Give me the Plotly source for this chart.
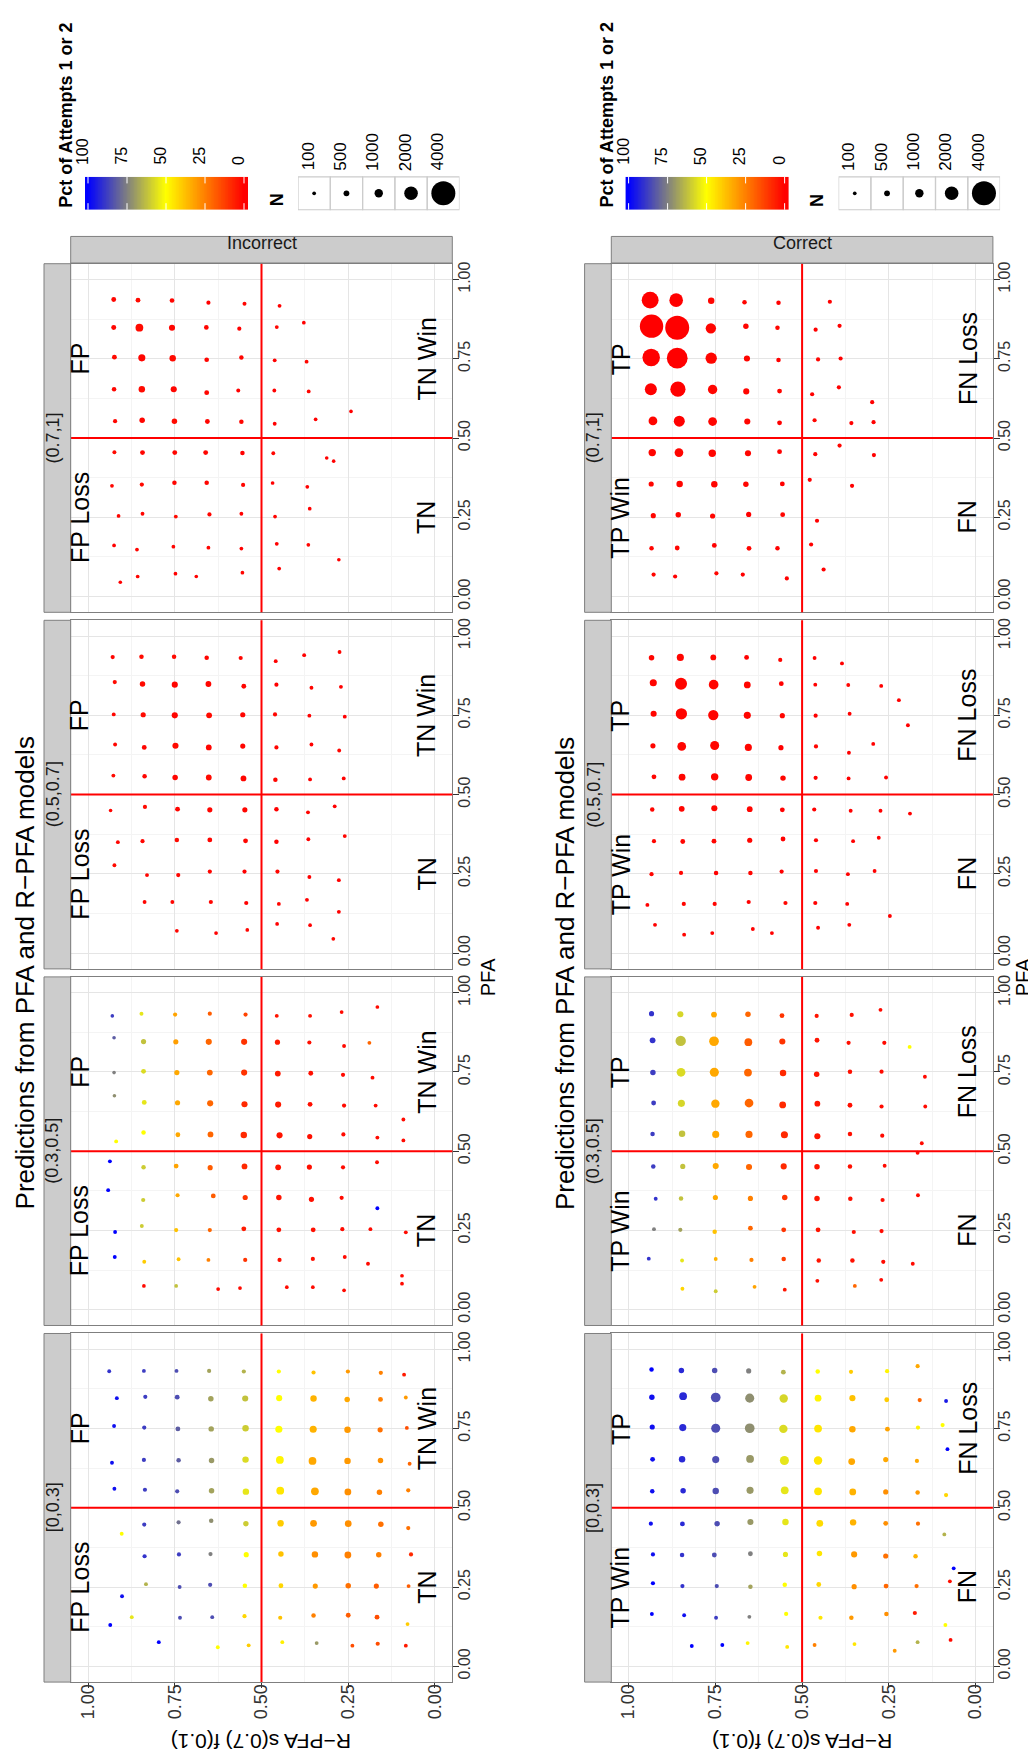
import plotly.graph_objects as go

W, H = 1036, 1754
FONT = "Liberation Sans, Arial, Helvetica, sans-serif"

# ---------------- labels / ticks ----------------
facet_labels = ["[0,0.3]", "(0.3,0.5]", "(0.5,0.7]", "(0.7,1]"]
outcome_labels = ["Incorrect", "Correct"]
quad_text_incorrect = ["FP", "FP Loss", "TN", "TN Win"]
quad_text_correct = ["TP", "TP Win", "FN", "FN Loss"]
quad_rpfa = [1, 1, 0, 0]
quad_pfa = [0.75, 0.25, 0.25, 0.75]
axis_tickvals = [0, 0.25, 0.5, 0.75, 1]
axis_ticktext = ["0.00", "0.25", "0.50", "0.75", "1.00"]
pct_legend_ticks = [100, 75, 50, 25, 0]
n_legend = [100, 500, 1000, 2000, 4000]
title_text = "Predictions from PFA and R\u2212PFA models"
xlab_text = "PFA"
ylab_text = "R\u2212PFA s(0.7) f(0.1)"
legend_color_title = "Pct of Attempts 1 or 2"
legend_size_title = "N"

# ---------------- data: Incorrect ----------------
# facet (0.7,1]
inc3_rpfa = [0.926,0.856,0.758,0.653,0.549,0.448,
             0.926,0.852,0.758,0.659,0.564,0.456,0.378,
             0.924,0.845,0.756,0.658,0.558,0.462,0.370,
             0.925,0.845,0.753,0.658,0.567,0.463,0.364,
             0.922,0.844,0.751,0.656,0.558,0.462,0.344,0.242,
             0.924,0.843,0.750,0.661,0.555,0.466,0.312,0.292,
             0.931,0.845,0.751,0.658,0.553,0.468,0.368,
             0.912,0.843,0.747,0.650,0.558,0.461,0.361,
             0.925,0.859,0.754,0.653,0.558,0.456,0.365,0.277,
             0.907,0.857,0.748,0.688,0.555,0.449]
inc3_pfa = [0.937,0.935,0.934,0.927,0.924,0.917,
            0.849,0.848,0.848,0.849,0.845,0.850,0.864,
            0.755,0.753,0.752,0.747,0.754,0.745,0.741,
            0.654,0.654,0.654,0.643,0.650,0.650,0.647,
            0.553,0.556,0.553,0.552,0.551,0.545,0.559,0.584,
            0.455,0.454,0.454,0.454,0.453,0.452,0.437,0.427,
            0.349,0.353,0.359,0.359,0.352,0.358,0.346,
            0.254,0.261,0.252,0.259,0.261,0.252,0.277,
            0.161,0.148,0.157,0.154,0.151,0.166,0.163,0.116,
            0.045,0.063,0.072,0.063,0.075,0.088]
inc3_n = [310,310,280,190,150,120,
          340,875,560,280,190,120,100,
          310,750,625,280,250,120,120,
          250,625,560,310,150,120,120,
          190,440,440,310,250,120,100,80,
          150,310,310,310,250,120,80,80,
          100,190,250,250,190,100,100,
          100,120,120,190,120,100,100,
          100,100,100,120,100,120,100,80,
          80,100,100,80,100,100]
inc3_pct = [1,2,1,0,1,0,
            1,2,1,1,0,1,0,
            2,1,2,1,1,0,1,
            1,2,1,1,0,0,1,
            1,1,2,1,1,0,0,0,
            2,1,1,1,0,1,0,0,
            1,2,1,1,1,0,0,
            1,1,2,1,0,1,0,
            0,1,1,1,0,0,1,0,
            0,1,0,0,1,0]

# facet (0.5,0.7]
inc2_rpfa = [0.929,0.846,0.752,0.658,0.560,0.459,0.377,0.275,
             0.923,0.843,0.750,0.653,0.551,0.457,0.356,0.271,
             0.926,0.841,0.750,0.651,0.554,0.461,0.362,0.260,
             0.922,0.838,0.748,0.652,0.554,0.457,0.356,0.276,
             0.927,0.837,0.749,0.652,0.552,0.460,0.360,0.263,
             0.935,0.836,0.742,0.649,0.548,0.457,0.366,0.289,
             0.914,0.843,0.744,0.649,0.546,0.457,0.365,0.260,
             0.924,0.830,0.740,0.649,0.549,0.454,0.362,0.277,
             0.837,0.757,0.646,0.544,0.450,0.369,0.277,
             0.744,0.631,0.541,0.455,0.360,0.293]
inc2_pfa = [0.934,0.935,0.935,0.932,0.931,0.921,0.940,0.950,
            0.855,0.849,0.847,0.849,0.842,0.847,0.837,0.840,
            0.753,0.752,0.750,0.750,0.752,0.753,0.749,0.746,
            0.658,0.649,0.654,0.649,0.653,0.649,0.658,0.639,
            0.560,0.558,0.554,0.554,0.551,0.547,0.548,0.551,
            0.450,0.461,0.454,0.452,0.452,0.454,0.444,0.463,
            0.350,0.353,0.357,0.357,0.354,0.351,0.359,0.369,
            0.277,0.246,0.246,0.257,0.257,0.257,0.240,0.230,
            0.161,0.161,0.161,0.158,0.155,0.168,0.130,
            0.070,0.063,0.073,0.092,0.088,0.045]
inc2_n = [190,250,250,250,190,125,125,125,
          190,440,560,500,310,190,125,125,
          125,375,560,500,375,190,125,125,
          125,310,560,500,375,190,125,125,
          125,250,440,500,500,250,125,125,
          80,190,310,375,375,250,125,125,
          125,190,250,310,310,250,125,125,
          125,125,190,190,190,190,125,125,
          125,125,190,190,125,125,125,
          100,100,100,100,100,100]
inc2_pct = [1,2,2,1,1,0,0,1,
            2,2,1,1,1,0,1,0,
            1,2,1,2,1,1,0,0,
            1,1,2,1,1,1,0,1,
            2,1,1,2,1,1,0,0,
            1,2,1,1,1,0,1,0,
            1,1,2,1,1,0,0,1,
            2,1,1,1,0,1,0,0,
            1,1,1,0,1,0,0,
            1,0,1,0,0,1]

# facet (0.3,0.5]
inc1_rpfa = [0.930,0.846,0.749,0.649,0.546,0.456,0.360,0.269,0.166,
             0.925,0.840,0.747,0.652,0.550,0.454,0.362,0.262,0.189,
             0.925,0.840,0.744,0.649,0.550,0.453,0.358,0.265,0.180,
             0.924,0.838,0.742,0.648,0.549,0.452,0.360,0.262,0.171,
             0.919,0.840,0.741,0.647,0.551,0.448,0.361,0.264,0.166,0.091,0.091,
             0.937,0.840,0.746,0.648,0.549,0.452,0.362,0.265,0.167,
             0.942,0.841,0.742,0.639,0.547,0.450,0.356,0.269,0.166,
             0.922,0.845,0.746,0.649,0.551,0.450,0.351,0.267,0.186,0.084,
             0.923,0.838,0.739,0.653,0.547,0.448,0.352,0.260,0.193,
             0.839,0.746,0.625,0.562,0.427,0.352,0.262,0.095,0.095]
inc1_pfa = [0.927,0.934,0.931,0.934,0.931,0.927,0.927,0.939,0.955,
            0.858,0.846,0.845,0.845,0.845,0.844,0.843,0.832,0.842,
            0.748,0.752,0.748,0.748,0.748,0.745,0.746,0.741,0.732,
            0.675,0.654,0.653,0.651,0.648,0.647,0.648,0.644,0.644,
            0.531,0.559,0.552,0.553,0.551,0.550,0.546,0.553,0.543,0.600,0.534,
            0.468,0.449,0.453,0.448,0.452,0.449,0.450,0.449,0.465,
            0.377,0.346,0.361,0.359,0.354,0.354,0.348,0.353,0.320,
            0.245,0.264,0.251,0.251,0.255,0.252,0.252,0.254,0.254,0.244,
            0.166,0.151,0.159,0.157,0.157,0.157,0.160,0.166,0.145,
            0.075,0.075,0.065,0.068,0.071,0.071,0.061,0.107,0.082]
inc1_n = [80,150,190,190,190,125,125,100,100,
          80,375,375,560,560,375,190,125,125,
          80,310,375,500,560,500,310,190,125,
          80,310,375,560,560,560,310,190,125,
          125,250,310,500,625,560,375,190,125,125,125,
          125,250,310,375,500,500,375,190,125,
          125,190,190,310,375,440,375,190,125,
          125,125,190,190,310,310,310,190,125,125,
          125,125,125,125,190,190,190,125,125,
          100,100,100,100,100,100,100,100,100]
inc1_pct = [88,55,32,18,13,4,3,2,2,
            82,62,31,20,10,5,3,2,20,
            75,57,33,20,10,5,3,2,2,
            72,55,33,20,8,5,3,2,2,
            50,50,33,20,8,4,3,2,2,2,2,
            100,60,32,18,8,4,3,2,2,
            100,60,33,18,10,4,3,2,100,
            100,60,38,20,5,3,3,2,2,2,
            100,40,38,25,10,3,3,2,2,
            2,62,2,2,2,2,2,2,2]

# facet [0,0.3]
inc0_rpfa = [0.939,0.839,0.745,0.651,0.551,0.450,0.350,0.251,0.156,0.089,
             0.917,0.835,0.743,0.646,0.547,0.449,0.350,0.253,0.157,0.084,
             0.925,0.838,0.741,0.645,0.546,0.450,0.351,0.252,0.158,0.081,
             0.931,0.839,0.739,0.644,0.546,0.447,0.353,0.252,0.157,0.073,
             0.924,0.836,0.743,0.644,0.545,0.446,0.346,0.251,0.160,0.077,
             0.903,0.838,0.739,0.645,0.545,0.445,0.350,0.250,0.156,0.077,
             0.837,0.738,0.647,0.544,0.444,0.346,0.251,0.162,0.069,
             0.833,0.902,0.736,0.648,0.548,0.444,0.345,0.250,0.169,0.076,
             0.936,0.874,0.735,0.642,0.549,0.446,0.350,0.250,0.167,0.079,
             0.796,0.626,0.537,0.440,0.341,0.238,0.165,0.084]
inc0_pfa = [0.931,0.932,0.932,0.932,0.930,0.930,0.927,0.930,0.926,0.920,
            0.846,0.850,0.849,0.844,0.845,0.846,0.845,0.842,0.842,0.848,
            0.758,0.753,0.749,0.749,0.751,0.748,0.748,0.746,0.746,0.752,
            0.642,0.651,0.650,0.649,0.652,0.651,0.648,0.648,0.649,0.639,
            0.560,0.557,0.552,0.554,0.551,0.554,0.552,0.550,0.549,0.555,
            0.418,0.447,0.454,0.459,0.450,0.451,0.451,0.450,0.448,0.436,
            0.347,0.353,0.354,0.352,0.354,0.353,0.351,0.352,0.353,
            0.259,0.221,0.250,0.257,0.254,0.254,0.253,0.254,0.253,0.253,
            0.130,0.155,0.153,0.155,0.158,0.153,0.160,0.161,0.155,0.133,
            0.076,0.060,0.066,0.076,0.073,0.065,0.071,0.065]
inc0_n = [125,125,125,190,190,190,190,190,190,125,
          125,190,310,440,560,560,625,440,310,125,
          125,190,310,440,625,750,750,625,375,125,
          125,190,250,440,625,875,875,625,440,125,
          125,190,190,440,625,875,875,690,440,190,
          125,190,190,250,440,625,690,690,440,190,
          190,190,190,375,440,625,690,440,190,
          125,125,125,190,250,310,375,440,375,125,
          125,125,125,125,190,190,250,310,310,125,
          125,125,125,125,125,125,190,125]
inc0_pct = [90,88,85,68,65,50,38,30,25,5,
            97,88,85,68,62,50,35,33,25,30,
            97,88,82,68,60,50,35,30,22,15,
            97,88,82,70,57,48,33,30,28,20,
            97,88,85,68,55,45,33,28,25,25,
            50,88,78,72,60,40,30,28,22,22,
            90,88,75,50,38,28,25,25,8,
            65,97,85,85,50,42,30,22,18,18,
            100,55,85,85,42,38,25,18,15,40,
            100,50,40,47,70,15,15,5]

# ---------------- data: Correct ----------------
# facet (0.7,1]
cor3_rpfa = [0.938,0.863,0.762,0.666,0.568,0.420,
             0.934,0.860,0.763,0.662,0.571,0.461,0.392,
             0.935,0.860,0.762,0.659,0.568,0.454,0.389,
             0.936,0.858,0.758,0.661,0.565,0.471,0.394,
             0.930,0.854,0.758,0.658,0.565,0.464,0.358,0.298,0.294,
             0.932,0.855,0.759,0.656,0.565,0.462,0.392,0.293,
             0.935,0.853,0.753,0.662,0.557,0.478,0.356,
             0.929,0.857,0.758,0.654,0.556,0.457,
             0.934,0.860,0.753,0.653,0.571,0.474,
             0.928,0.866,0.747,0.671,0.544,0.438]
cor3_pfa = [0.935,0.935,0.933,0.928,0.927,0.930,
            0.853,0.848,0.846,0.853,0.848,0.842,0.854,
            0.754,0.752,0.752,0.751,0.746,0.748,0.751,
            0.654,0.654,0.653,0.647,0.648,0.638,0.660,
            0.554,0.553,0.552,0.552,0.548,0.556,0.547,0.613,0.550,
            0.454,0.454,0.452,0.452,0.457,0.449,0.476,0.446,
            0.355,0.355,0.354,0.354,0.355,0.368,0.349,
            0.255,0.258,0.254,0.259,0.258,0.239,
            0.152,0.153,0.161,0.152,0.152,0.164,
            0.069,0.063,0.073,0.069,0.057,0.085]
cor3_n = [2630,2000,625,250,250,190,
          3875,4000,1375,440,250,190,190,
          2750,3375,1560,560,250,190,190,
          1690,2310,1190,560,310,190,190,
          1060,1500,1060,560,310,190,190,190,190,
          810,1060,810,560,310,190,190,190,
          375,625,625,440,310,190,190,
          375,440,375,375,310,190,
          250,310,310,310,250,190,
          190,190,190,190,190,190]
cor3_pct = [0,0,1,1,0,0,
            0,0,1,1,1,0,0,
            0,0,1,1,0,1,0,
            0,0,1,1,1,0,0,
            1,0,1,1,0,1,0,0,0,
            1,1,1,1,0,0,1,0,
            1,1,1,1,0,0,0,
            1,1,1,0,1,0,
            1,1,0,1,0,0,
            1,0,1,0,0,0]

# facet (0.5,0.7]
cor2_rpfa = [0.934,0.851,0.756,0.660,0.563,0.464,0.385,
             0.929,0.849,0.755,0.658,0.560,0.462,0.367,0.272,0.221,
             0.928,0.848,0.756,0.658,0.557,0.461,0.363,0.195,
             0.930,0.847,0.752,0.655,0.561,0.460,0.365,0.295,
             0.927,0.846,0.752,0.654,0.555,0.461,0.366,0.258,
             0.932,0.847,0.753,0.651,0.557,0.465,0.360,0.274,0.189,
             0.927,0.844,0.754,0.651,0.555,0.460,0.353,0.279,
             0.934,0.849,0.748,0.649,0.559,0.460,0.368,0.291,
             0.946,0.841,0.752,0.654,0.548,0.462,0.370,0.247,
             0.924,0.840,0.759,0.642,0.587,0.454,0.364]
cor2_pfa = [0.932,0.933,0.933,0.933,0.925,0.931,0.914,
            0.853,0.850,0.847,0.846,0.850,0.847,0.846,0.843,0.798,
            0.755,0.755,0.751,0.750,0.749,0.749,0.755,0.719,
            0.654,0.652,0.655,0.649,0.648,0.652,0.632,0.660,
            0.556,0.555,0.556,0.554,0.552,0.553,0.551,0.554,
            0.453,0.455,0.457,0.454,0.452,0.453,0.449,0.449,0.440,
            0.353,0.352,0.353,0.356,0.360,0.356,0.353,0.364,
            0.249,0.253,0.253,0.253,0.257,0.259,0.249,0.259,
            0.152,0.155,0.155,0.161,0.158,0.158,0.155,0.117,
            0.089,0.058,0.063,0.076,0.063,0.080,0.089]
cor2_n = [440,750,500,310,190,125,125,
          750,1690,1250,690,310,125,125,125,125,
          560,1560,1375,750,375,190,125,125,
          375,1060,1120,750,375,190,125,125,
          310,690,810,690,440,190,125,125,
          250,500,560,500,310,190,125,125,125,
          190,310,310,375,310,190,125,125,
          190,190,250,250,190,190,125,125,
          125,190,190,190,190,190,125,125,
          125,125,125,125,125,125,125]
cor2_pct = [1,1,1,0,1,0,0,
            1,1,1,1,0,0,1,0,0,
            1,1,1,1,1,0,0,0,
            1,1,1,1,0,1,0,0,
            1,1,1,1,1,0,0,0,
            1,1,1,1,0,0,0,0,0,
            1,1,1,1,0,0,0,0,
            1,1,0,1,0,0,0,0,
            0,1,1,0,1,0,0,0,
            0,1,0,0,0,0,0]

# facet (0.3,0.5]
cor1_rpfa = [0.934,0.851,0.754,0.656,0.558,0.458,0.357,0.274,
             0.931,0.850,0.754,0.655,0.557,0.457,0.366,0.263,0.190,
             0.930,0.849,0.753,0.656,0.555,0.458,0.362,0.271,0.146,
             0.928,0.848,0.750,0.653,0.556,0.456,0.362,0.271,0.145,
             0.931,0.846,0.749,0.653,0.551,0.456,0.362,0.269,0.155,0.167,
             0.929,0.844,0.749,0.653,0.553,0.457,0.362,0.262,
             0.922,0.849,0.750,0.649,0.550,0.457,0.361,0.268,0.166,
             0.927,0.851,0.752,0.649,0.553,0.454,0.351,0.271,
             0.942,0.846,0.749,0.646,0.553,0.452,0.355,0.266,0.181,
             0.845,0.749,0.637,0.550,0.456,0.348,0.272]
cor1_pfa = [0.934,0.932,0.931,0.932,0.928,0.927,0.930,0.946,
            0.850,0.848,0.847,0.844,0.846,0.850,0.842,0.842,0.829,
            0.748,0.749,0.749,0.748,0.747,0.743,0.751,0.751,0.735,
            0.652,0.651,0.650,0.652,0.646,0.650,0.645,0.641,0.641,
            0.554,0.555,0.553,0.553,0.552,0.547,0.554,0.549,0.525,0.495,
            0.452,0.452,0.453,0.450,0.452,0.451,0.452,0.454,
            0.350,0.351,0.354,0.351,0.354,0.351,0.350,0.346,0.361,
            0.254,0.252,0.246,0.257,0.252,0.252,0.245,0.248,
            0.161,0.155,0.160,0.157,0.160,0.155,0.155,0.151,0.145,
            0.066,0.058,0.072,0.063,0.091,0.075,0.094]
cor1_n = [375,560,500,440,310,190,190,125,
          500,1375,1250,875,560,310,190,190,125,
          440,1060,1125,875,625,440,250,190,125,
          310,750,1000,1060,690,500,310,190,125,
          250,625,750,750,750,560,250,190,125,125,
          250,375,560,560,560,440,250,125,
          125,250,375,375,440,440,250,190,125,
          125,190,250,310,310,310,190,190,
          125,125,125,190,250,250,250,190,125,
          125,125,125,125,125,125,125]
cor1_pct = [90,58,33,20,10,4,3,2,
            90,62,33,18,10,4,3,2,50,
            88,57,33,20,8,4,3,2,2,
            88,58,33,20,8,4,3,2,2,
            88,62,33,20,8,4,3,2,2,2,
            88,62,33,20,8,4,3,2,
            90,62,33,25,10,4,3,2,2,
            75,68,38,20,10,4,3,2,
            90,55,35,25,12,4,3,2,2,
            42,60,32,4,3,20,2]

# facet [0,0.3]
cor0_rpfa = [0.934,0.848,0.752,0.654,0.554,0.455,0.359,0.255,0.167,
             0.933,0.843,0.749,0.651,0.553,0.454,0.355,0.256,0.161,0.085,
             0.932,0.844,0.749,0.651,0.554,0.454,0.355,0.254,0.166,0.095,
             0.931,0.846,0.749,0.650,0.551,0.454,0.357,0.259,0.169,0.081,
             0.932,0.843,0.749,0.650,0.550,0.454,0.354,0.259,0.167,0.085,
             0.936,0.845,0.745,0.649,0.548,0.449,0.353,0.259,0.166,0.090,
             0.930,0.846,0.753,0.649,0.548,0.450,0.350,0.259,0.173,0.063,
             0.930,0.845,0.746,0.649,0.550,0.452,0.350,0.258,0.170,0.074,
             0.933,0.840,0.748,0.652,0.546,0.447,0.358,0.257,0.175,0.087,
             0.818,0.730,0.657,0.543,0.464,0.349,0.233,0.167,0.072]
cor0_pfa = [0.936,0.933,0.933,0.932,0.928,0.930,0.929,0.931,0.947,
            0.849,0.852,0.848,0.846,0.845,0.846,0.846,0.841,0.840,0.837,
            0.755,0.753,0.751,0.751,0.749,0.750,0.748,0.748,0.753,0.761,
            0.653,0.653,0.652,0.654,0.649,0.649,0.646,0.652,0.648,0.685,
            0.552,0.554,0.553,0.555,0.555,0.552,0.550,0.550,0.548,0.540,
            0.450,0.449,0.450,0.455,0.455,0.451,0.454,0.451,0.450,0.416,
            0.353,0.351,0.351,0.355,0.353,0.356,0.353,0.348,0.347,0.309,
            0.262,0.253,0.253,0.251,0.257,0.258,0.251,0.253,0.253,0.268,
            0.165,0.161,0.153,0.156,0.165,0.153,0.153,0.165,0.168,0.130,
            0.064,0.067,0.073,0.061,0.067,0.070,0.049,0.076,0.083]
cor0_n = [250,440,440,375,310,250,190,190,190,
          440,875,1250,1125,1000,690,560,310,190,125,
          375,750,1125,1250,1000,875,625,310,190,190,
          310,625,750,875,1125,1000,690,375,190,125,
          250,440,625,750,875,875,690,375,250,190,
          190,310,440,560,625,690,625,310,190,125,
          190,250,310,310,375,440,560,375,250,125,
          190,190,190,250,250,310,375,310,190,125,
          125,125,125,125,190,190,250,250,190,125,
          125,125,125,125,125,125,125,125,125]
cor0_pct = [100,92,85,75,65,50,40,48,33,
            97,92,85,72,58,48,38,40,20,95,
            97,92,85,72,57,45,33,32,48,50,
            97,92,85,70,55,45,33,33,33,100,
            97,92,85,70,55,45,35,28,30,42,
            97,92,85,70,55,43,35,28,22,65,
            97,90,85,75,55,45,30,22,35,100,
            100,90,85,68,50,42,28,20,22,3,
            100,97,88,75,50,45,30,28,5,50,
            100,100,48,45,25,45,30,65,2]

panels = {
    (0, 0): (inc0_rpfa, inc0_pfa, inc0_n, inc0_pct),
    (0, 1): (inc1_rpfa, inc1_pfa, inc1_n, inc1_pct),
    (0, 2): (inc2_rpfa, inc2_pfa, inc2_n, inc2_pct),
    (0, 3): (inc3_rpfa, inc3_pfa, inc3_n, inc3_pct),
    (1, 0): (cor0_rpfa, cor0_pfa, cor0_n, cor0_pct),
    (1, 1): (cor1_rpfa, cor1_pfa, cor1_n, cor1_pct),
    (1, 2): (cor2_rpfa, cor2_pfa, cor2_n, cor2_pct),
    (1, 3): (cor3_rpfa, cor3_pfa, cor3_n, cor3_pct),
}

# ---------------- styling ----------------
COLORSCALE = [[0.0, "#FF0000"], [0.5, "#FFFF00"], [1.0, "#0000FF"]]


def size_of(n):
    return 3.2 + 0.0052 * n


def fx(px):
    return px / W


def fy(py):
    return 1 - py / H


def glyph_shift(size, angle):
    """Compensate the baseline offset of plotly's annotation text box."""
    d = 0.33 * size
    if angle == -90:
        return dict(xshift=-d, yshift=0)
    if angle == 180:
        return dict(xshift=0, yshift=0)
    return dict(xshift=0, yshift=d)


def ann(text, x, y, size, angle=0, xref="paper", yref="paper",
        xanchor="center", yanchor="middle", color="#000000", shift=True):
    d = dict(xref=xref, yref=yref, x=x, y=y, text=text, showarrow=False,
             textangle=angle, xanchor=xanchor, yanchor=yanchor,
             font=dict(size=size, color=color, family=FONT))
    if shift:
        d.update(glyph_shift(size, angle))
    return d


PLOT_OFFSET = [0.0, 540.6]
PANEL_X0, PANEL_X1 = 62.7, 444.3
PANEL_TOP0, PANEL_STEP, PANEL_H = 254.0, 357.0, 349.0
GRID_MAJOR = "#E5E5E5"
GRID_MINOR = "#F4F4F4"
BORDER = "#7F7F7F"
TICKCOL = "#333333"
minor_vals = [0.125, 0.375, 0.625, 0.875]
XLAB_X = [486.0, 1021.0]

fig = go.Figure()
layout = {}
shapes = []
annotations = []


def ax_name(prefix, k):
    return prefix if k == 1 else f"{prefix}{k}"


def ref(prefix, k):
    return prefix if k == 1 else f"{prefix}{k}"


for p in range(2):
    off = PLOT_OFFSET[p]
    qtext = quad_text_incorrect if p == 0 else quad_text_correct
    for f in range(4):
        k = p * 4 + f + 1
        top = PANEL_TOP0 + PANEL_STEP * (3 - f)
        bot = top + PANEL_H
        xr, yr = ref("x", k), ref("y", k)
        layout[ax_name("xaxis", k)] = dict(
            domain=[fx(PANEL_X0 + off), fx(PANEL_X1 + off)], anchor=yr,
            range=[1.05, -0.05], tickmode="array", tickvals=axis_tickvals,
            ticktext=axis_ticktext, tickangle=-90,
            showticklabels=(f == 0), ticks="outside" if f == 0 else "",
            ticklen=5, tickwidth=1, tickcolor=TICKCOL, ticklabelstandoff=-11,
            tickfont=dict(size=18, color=TICKCOL, family=FONT),
            showgrid=True, gridcolor=GRID_MAJOR, gridwidth=1,
            minor=dict(tickmode="array", tickvals=minor_vals, showgrid=True,
                       gridcolor=GRID_MINOR, gridwidth=1, ticks=""),
            zeroline=False, showline=True, mirror=True, linecolor=BORDER,
            linewidth=1, fixedrange=True)
        layout[ax_name("yaxis", k)] = dict(
            domain=[fy(bot), fy(top)], anchor=xr, side="right",
            range=[-0.05, 1.05], tickmode="array", tickvals=axis_tickvals,
            ticktext=axis_ticktext, tickangle=-90, ticks="outside",
            ticklen=6, tickwidth=1, tickcolor=TICKCOL, ticklabelstandoff=-9,
            tickfont=dict(size=16, color=TICKCOL, family=FONT),
            showgrid=True, gridcolor=GRID_MAJOR, gridwidth=1,
            minor=dict(tickmode="array", tickvals=minor_vals, showgrid=True,
                       gridcolor=GRID_MINOR, gridwidth=1, ticks=""),
            zeroline=False, showline=True, mirror=True, linecolor=BORDER,
            linewidth=1, fixedrange=True)

        rp, pf, nn, pc = panels[(p, f)]
        fig.add_trace(go.Scatter(
            x=rp, y=pf, mode="markers", xaxis=xr, yaxis=yr,
            marker=dict(size=[size_of(v) for v in nn], color=pc,
                        colorscale=COLORSCALE, cmin=0, cmax=100,
                        showscale=False, opacity=1, line=dict(width=0)),
            hoverinfo="skip", showlegend=False))

        # red reference lines at 0.5
        shapes.append(dict(type="line", xref=xr, yref=f"{yr} domain",
                           x0=0.5, x1=0.5, y0=0, y1=1,
                           line=dict(color="#FF0000", width=2), layer="above"))
        shapes.append(dict(type="line", xref=f"{xr} domain", yref=yr,
                           x0=0, x1=1, y0=0.5, y1=0.5,
                           line=dict(color="#FF0000", width=2), layer="above"))

        # facet strip (left side)
        shapes.append(dict(type="rect", xref="paper", yref="paper",
                           x0=fx(36 + off), x1=fx(PANEL_X0 + off),
                           y0=fy(bot), y1=fy(top), layer="above",
                           fillcolor="#CCCCCC", line=dict(color=BORDER, width=1)))
        annotations.append(ann(facet_labels[f], fx(50.5 + off), fy((top + bot) / 2),
                               18, angle=-90, color="#1A1A1A"))

        # quadrant labels
        for t, qx, qy in zip(qtext, quad_rpfa, quad_pfa):
            annotations.append(ann(t, qx, qy, 25, angle=-90, xref=xr, yref=yr))

    # outcome strip (top)
    shapes.append(dict(type="rect", xref="paper", yref="paper",
                       x0=fx(PANEL_X0 + off), x1=fx(PANEL_X1 + off),
                       y0=fy(253.3), y1=fy(226.7), layer="above",
                       fillcolor="#CCCCCC", line=dict(color=BORDER, width=1)))
    annotations.append(ann(outcome_labels[p], fx((PANEL_X0 + PANEL_X1) / 2 + off),
                           fy(239), 18, color="#1A1A1A"))

    # title, axis titles
    annotations.append(ann(title_text, fx(17 + off), fy(964.5), 26, angle=-90,
                           shift=False))
    annotations.append(ann(xlab_text, fx(XLAB_X[p]), fy(968), 20, angle=-90))
    annotations.append(ann(ylab_text, fx(253.5 + off), fy(1734), 21, angle=180))

    # ---- colour legend ----
    kcb = 9 + p
    cxr, cyr = ref("x", kcb), ref("y", kcb)
    layout[ax_name("xaxis", kcb)] = dict(domain=[fx(77 + off), fx(240 + off)],
                                          range=[101.92, -2.56], anchor=cyr,
                                          visible=False, fixedrange=True)
    layout[ax_name("yaxis", kcb)] = dict(domain=[fy(200), fy(167)], range=[0, 1],
                                          anchor=cxr, visible=False, fixedrange=True)
    cb_vals = [i * 0.5 for i in range(-6, 206)]
    fig.add_trace(go.Heatmap(x=cb_vals, y=[0.5], z=[cb_vals], xaxis=cxr, yaxis=cyr,
                             colorscale=COLORSCALE, zmin=0, zmax=100,
                             showscale=False, hoverinfo="skip"))
    for v in pct_legend_ticks:
        for y0, y1 in [(0, 0.2), (0.8, 1)]:
            shapes.append(dict(type="line", xref=cxr, yref=f"{cyr} domain",
                               x0=v, x1=v, y0=y0, y1=y1, layer="above",
                               line=dict(color="#FFFFFF", width=1)))
        annotations.append(ann(str(v), v, fy(157), 16, angle=-90, xref=cxr,
                               yanchor="bottom"))
    annotations.append(ann(f"<b>{legend_color_title}</b>", fx(64.5 + off), fy(200),
                           18, angle=-90, yanchor="bottom"))

    # ---- size legend ----
    ksz = 11 + p
    sxr, syr = ref("x", ksz), ref("y", ksz)
    layout[ax_name("xaxis", ksz)] = dict(domain=[fx(290 + off), fx(451.5 + off)],
                                          range=[0.5, 5.5], anchor=syr,
                                          visible=False, fixedrange=True)
    layout[ax_name("yaxis", ksz)] = dict(domain=[fy(200), fy(167)], range=[0, 1],
                                          anchor=sxr, visible=False, fixedrange=True)
    pos = list(range(1, len(n_legend) + 1))
    for i in pos:
        shapes.append(dict(type="rect", xref=sxr, yref=f"{syr} domain",
                           x0=i - 0.5, x1=i + 0.5, y0=0, y1=1,
                           fillcolor="rgba(0,0,0,0)",
                           line=dict(color="#CCCCCC", width=1.2),
                           layer="above"))
    fig.add_trace(go.Scatter(x=pos, y=[0.5] * len(pos), mode="markers",
                             xaxis=sxr, yaxis=syr, hoverinfo="skip", showlegend=False,
                             marker=dict(size=[size_of(v) for v in n_legend],
                                         color="#000000", opacity=1,
                                         line=dict(width=0))))
    for i, v in zip(pos, n_legend):
        annotations.append(ann(str(v), i, fy(163), 17, angle=-90, xref=sxr,
                               yanchor="bottom"))
    annotations.append(ann(f"<b>{legend_size_title}</b>", fx(275 + off), fy(199),
                           18, angle=-90, yanchor="bottom"))

fig.update_layout(**layout)
fig.update_layout(width=W, height=H, margin=dict(l=0, r=0, t=0, b=0, pad=0),
                  paper_bgcolor="#FFFFFF", plot_bgcolor="#FFFFFF",
                  showlegend=False, shapes=shapes, annotations=annotations,
                  font=dict(family=FONT, color="#000000"))

fig.write_html("out.html", config={"displayModeBar": False})
